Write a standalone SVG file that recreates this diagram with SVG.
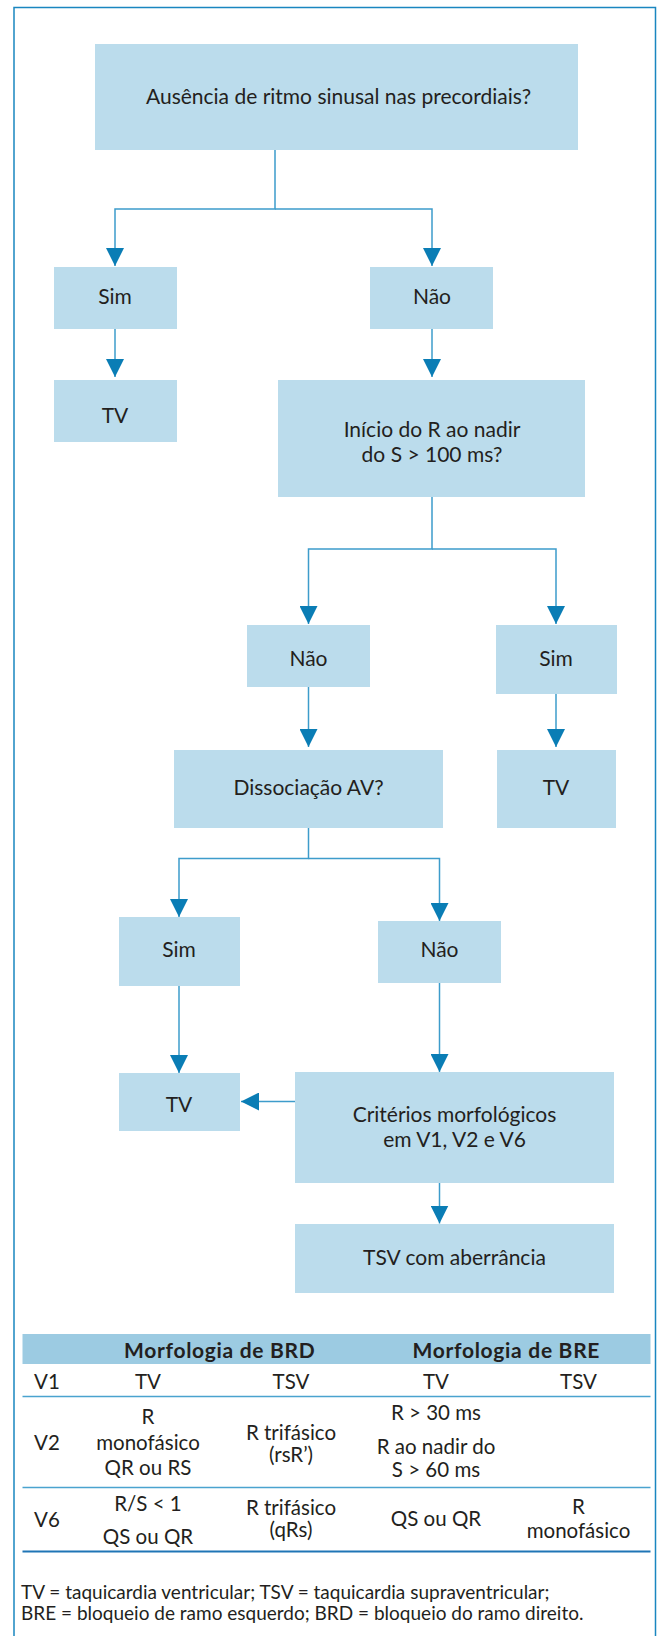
<svg xmlns="http://www.w3.org/2000/svg" width="662" height="1636" viewBox="0 0 662 1636">
<defs>
<style>
.box{fill:#bbdcec}
.t{font-family:Lato,"Noto Sans",sans-serif;font-size:21px;fill:#231f20;text-anchor:middle}
.tt{font-family:Lato,"Noto Sans",sans-serif;font-size:20.5px;fill:#231f20;text-anchor:middle}
.tl{font-family:Lato,"Noto Sans",sans-serif;font-size:20.5px;fill:#231f20}
.hb{font-family:Lato,"Noto Sans",sans-serif;font-size:21px;font-weight:bold;letter-spacing:0.7px;fill:#231f20;text-anchor:middle}
.ft{font-family:Lato,"Noto Sans",sans-serif;font-size:19px;fill:#231f20}
.c{fill:none;stroke:#3d9ccb;stroke-width:1.5}
.rule{stroke:#4aa3cf;stroke-width:1.5}
</style>
<marker id="ah" markerUnits="userSpaceOnUse" markerWidth="18" markerHeight="18" refX="18" refY="9" orient="auto" viewBox="0 0 18 18">
<path d="M0,0 L18,9 L0,18 z" fill="#0a7db5"/>
</marker>
</defs>
<rect x="0" y="0" width="662" height="1636" fill="#ffffff"/>
<path d="M14,1640 V7.5 H655.5 V1640" fill="none" stroke="#1a86c0" stroke-width="1.5"/>

<g id="connectors">
<path class="c" d="M275,150 V209 H115 V266" marker-end="url(#ah)"/>
<path class="c" d="M275,209 H432 V266" marker-end="url(#ah)"/>
<path class="c" d="M115,329 V377" marker-end="url(#ah)"/>
<path class="c" d="M432,329 V377" marker-end="url(#ah)"/>
<path class="c" d="M432,497 V549 H308.5 V624" marker-end="url(#ah)"/>
<path class="c" d="M432,549 H556 V624" marker-end="url(#ah)"/>
<path class="c" d="M308.5,687 V747" marker-end="url(#ah)"/>
<path class="c" d="M556,694 V747" marker-end="url(#ah)"/>
<path class="c" d="M308.5,828 V858.5 H179 V917" marker-end="url(#ah)"/>
<path class="c" d="M308.5,858.5 H439.5 V921" marker-end="url(#ah)"/>
<path class="c" d="M179,986 V1073" marker-end="url(#ah)"/>
<path class="c" d="M439.5,983 V1072" marker-end="url(#ah)"/>
<path class="c" d="M295,1101.5 H241" marker-end="url(#ah)"/>
<path class="c" d="M439.5,1183 V1223.5" marker-end="url(#ah)"/>
</g>

<g id="n-ausencia"><rect class="box" x="95" y="44" width="483" height="106"/><text class="t" x="338.5" y="103.5">Ausência de ritmo sinusal nas precordiais?</text></g>
<g id="n-sim1"><rect class="box" x="54" y="267" width="123" height="62"/><text class="t" x="115" y="304">Sim</text></g>
<g id="n-nao1"><rect class="box" x="370" y="267" width="123" height="62"/><text class="t" x="432" y="304">Não</text></g>
<g id="n-tv1"><rect class="box" x="54" y="380" width="123" height="62"/><text class="t" x="115" y="422.5">TV</text></g>
<g id="n-inicio"><rect class="box" x="278" y="380" width="307" height="117"/><text class="t" x="432" y="436.5">Início do R ao nadir</text><text class="t" x="432" y="462">do S &gt; 100 ms?</text></g>
<g id="n-nao2"><rect class="box" x="247" y="625" width="123" height="62"/><text class="t" x="308.5" y="665.5">Não</text></g>
<g id="n-sim2"><rect class="box" x="496" y="625" width="121" height="69"/><text class="t" x="556" y="665.5">Sim</text></g>
<g id="n-dissociacao"><rect class="box" x="174" y="750" width="269" height="78"/><text class="t" x="308.5" y="795">Dissociação AV?</text></g>
<g id="n-tv2"><rect class="box" x="497" y="750" width="119" height="78"/><text class="t" x="556" y="795">TV</text></g>
<g id="n-sim3"><rect class="box" x="119" y="917" width="121" height="69"/><text class="t" x="179" y="956.5">Sim</text></g>
<g id="n-nao3"><rect class="box" x="378" y="921" width="123" height="62"/><text class="t" x="439.5" y="956.5">Não</text></g>
<g id="n-tv3"><rect class="box" x="119" y="1073" width="121" height="58"/><text class="t" x="179" y="1111.5">TV</text></g>
<g id="n-criterios"><rect class="box" x="295" y="1072" width="319" height="111"/><text class="t" x="454.5" y="1121.5">Critérios morfológicos</text><text class="t" x="454.5" y="1147">em V1, V2 e V6</text></g>
<g id="n-tsv"><rect class="box" x="295" y="1224" width="319" height="69"/><text class="t" x="454.5" y="1265">TSV com aberrância</text></g>

<g id="table">
<rect x="22.5" y="1334" width="628" height="30" fill="#9ccbe2"/>
<text class="hb" x="219.7" y="1358">Morfologia de BRD</text>
<text class="hb" x="506.3" y="1358">Morfologia de BRE</text>
<text class="tl" x="34" y="1389">V1</text>
<text class="tt" x="148" y="1389">TV</text>
<text class="tt" x="291" y="1389">TSV</text>
<text class="tt" x="436" y="1389">TV</text>
<text class="tt" x="578.5" y="1389">TSV</text>
<line class="rule" x1="22.5" y1="1396.5" x2="650.5" y2="1396.5"/>
<text class="tl" x="34" y="1450">V2</text>
<text class="tt" x="148" y="1423.5">R</text>
<text class="tt" x="148" y="1449.5">monofásico</text>
<text class="tt" x="148" y="1475">QR ou RS</text>
<text class="tt" x="291" y="1440">R trifásico</text>
<text class="tt" x="291" y="1461.5">(rsR’)</text>
<text class="tt" x="436" y="1420">R &gt; 30 ms</text>
<text class="tt" x="436" y="1453.5">R ao nadir do</text>
<text class="tt" x="436" y="1477">S &gt; 60 ms</text>
<line class="rule" x1="22.5" y1="1487.5" x2="650.5" y2="1487.5"/>
<text class="tl" x="34" y="1527">V6</text>
<text class="tt" x="148" y="1510.5">R/S &lt; 1</text>
<text class="tt" x="148" y="1543.5">QS ou QR</text>
<text class="tt" x="291" y="1514.5">R trifásico</text>
<text class="tt" x="291" y="1537">(qRs)</text>
<text class="tt" x="436" y="1525.5">QS ou QR</text>
<text class="tt" x="578.5" y="1513.5">R</text>
<text class="tt" x="578.5" y="1538">monofásico</text>
<line x1="22.5" y1="1551.5" x2="650.5" y2="1551.5" stroke="#1f75b5" stroke-width="2"/>
</g>

<g id="legend">
<text class="ft" x="21" y="1598.5">TV = taquicardia ventricular; TSV = taquicardia supraventricular;</text>
<text class="ft" x="21" y="1619.5">BRE = bloqueio de ramo esquerdo; BRD = bloqueio do ramo direito.</text>
</g>
</svg>
